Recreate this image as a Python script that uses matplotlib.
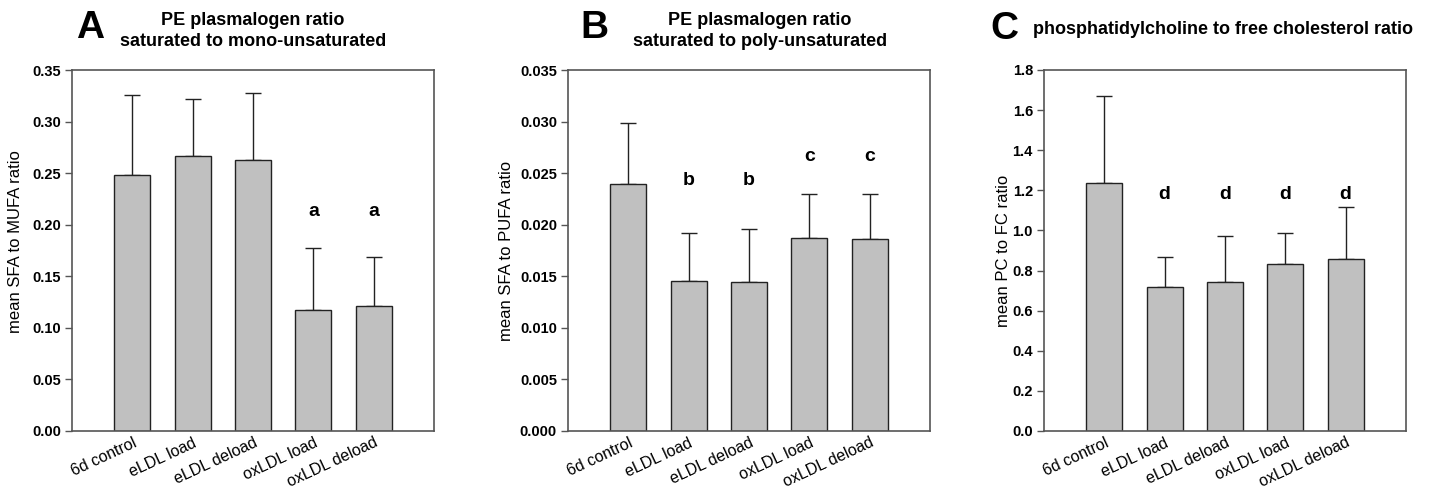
import matplotlib
matplotlib.use("Agg")
import matplotlib.pyplot as plt

plt.rcParams['font.family'] = ['Liberation Sans', 'DejaVu Sans']

categories = ["6d control", "eLDL load", "eLDL deload", "oxLDL load", "oxLDL deload"]

a_mean = [0.248, 0.267, 0.263, 0.117, 0.121]
a_err = [0.078, 0.055, 0.065, 0.060, 0.048]
a_sig = ["", "", "", "a", "a"]
a_sig_y = [0, 0, 0, 0.213, 0.213]

b_mean = [0.0239, 0.0145, 0.0144, 0.0187, 0.0186]
b_err = [0.0060, 0.0047, 0.0052, 0.0043, 0.0044]
b_sig = ["", "b", "b", "c", "c"]
b_sig_y = [0, 0.0243, 0.0243, 0.0266, 0.0266]

c_mean = [1.235, 0.717, 0.745, 0.832, 0.860]
c_err = [0.437, 0.151, 0.227, 0.153, 0.255]
c_sig = ["", "d", "d", "d", "d"]
c_sig_y = [0, 1.18, 1.18, 1.18, 1.18]

panels = [
    dict(letter="A", title="PE plasmalogen ratio\nsaturated to mono-unsaturated", ylabel="mean SFA to MUFA ratio",
         mean=a_mean, err=a_err, sig=a_sig, sig_y=a_sig_y, ymax=0.35, step=0.05, fmt="{:.2f}"),
    dict(letter="B", title="PE plasmalogen ratio\nsaturated to poly-unsaturated", ylabel="mean SFA to PUFA ratio",
         mean=b_mean, err=b_err, sig=b_sig, sig_y=b_sig_y, ymax=0.035, step=0.005, fmt="{:.3f}"),
    dict(letter="C", title="phosphatidylcholine to free cholesterol ratio", ylabel="mean PC to FC ratio",
         mean=c_mean, err=c_err, sig=c_sig, sig_y=c_sig_y, ymax=1.8, step=0.2, fmt="{:.1f}"),
]

W, H = 1433, 488
fig = plt.figure(figsize=(W / 100, H / 100), dpi=100)
lefts = [72, 568, 1044]
ylabel_x = [23, 514, 1011]
ylabel_y = [0.525, 0.5, 0.5]
top, bottom = 70, 431
width = 362

for p, left, ylx, yly in zip(panels, lefts, ylabel_x, ylabel_y):
    ax = fig.add_axes([left / W, (H - bottom) / H, width / W, (bottom - top) / H])
    x = list(range(1, len(categories) + 1))
    ax.bar(x, p["mean"], width=0.6, color="#c0c0c0", edgecolor="#222222", linewidth=1.0, zorder=2)
    ax.errorbar(x, p["mean"], yerr=[[0] * len(x), p["err"]], fmt="none", ecolor="#222222",
                elinewidth=1.0, capsize=6, capthick=1.0, zorder=1)
    for xi, s, sy in zip(x, p["sig"], p["sig_y"]):
        if s:
            ax.text(xi, sy, s, ha="center", va="center", fontsize=14, fontweight="bold")
    ax.set_xlim(0, 6)
    ax.set_ylim(0, p["ymax"])
    n = int(round(p["ymax"] / p["step"]))
    ticks = [i * p["step"] for i in range(n + 1)]
    ax.set_yticks(ticks)
    ax.set_yticklabels([p["fmt"].format(t) for t in ticks], fontweight="bold", fontsize=10.5)
    ax.set_xticks(x)
    ax.set_xticklabels(categories, rotation=25, ha="right", rotation_mode="anchor", fontsize=11.5)
    ax.tick_params(axis="x", length=0, pad=3)
    ax.tick_params(axis="y", length=5, width=1, color="#555555", pad=3)
    for sp in ax.spines.values():
        sp.set_color("#555555")
        sp.set_linewidth(1.2)
    ax.set_ylabel(p["ylabel"], fontsize=12)
    ax.yaxis.set_label_coords((ylx - left) / width, yly)

# titles and panel letters
fig.text(76 / W, 1 - 28 / H, "A", fontsize=28, fontweight="bold", ha="left", va="center")
fig.text(253 / W, 1 - 31 / H, panels[0]["title"], fontsize=13, fontweight="bold", ha="center", va="center",
         linespacing=1.35)
fig.text(580 / W, 1 - 28 / H, "B", fontsize=28, fontweight="bold", ha="left", va="center")
fig.text(760 / W, 1 - 31 / H, panels[1]["title"], fontsize=13, fontweight="bold", ha="center", va="center",
         linespacing=1.35)
fig.text(990 / W, 1 - 29 / H, "C", fontsize=28, fontweight="bold", ha="left", va="center")
fig.text(1033 / W, 1 - 29 / H, panels[2]["title"], fontsize=13, fontweight="bold", ha="left", va="center")

fig.savefig("out.png", dpi=100)
